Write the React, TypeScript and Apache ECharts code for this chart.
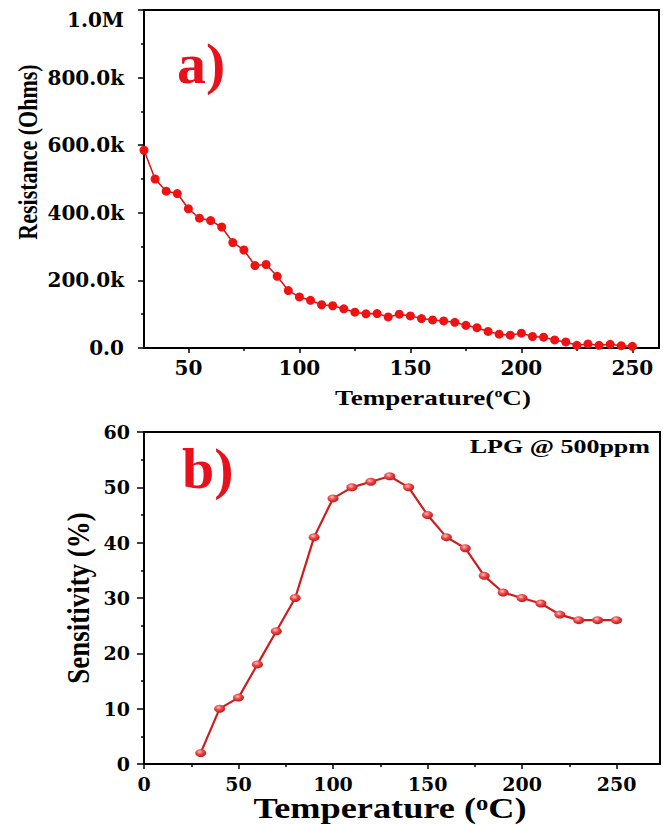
import React, { useEffect, useRef } from "react";
import * as echarts from "echarts";

// ---- Data ----
const tempA = [30, 35, 40, 45, 50, 55, 60, 65, 70, 75, 80, 85, 90, 95, 100, 105, 110, 115, 120, 125, 130, 135, 140, 145, 150, 155, 160, 165, 170, 175, 180, 185, 190, 195, 200, 205, 210, 215, 220, 225, 230, 235, 240, 245, 250];
const resistance = [585000, 500000, 464000, 457000, 412000, 384000, 377000, 358000, 312000, 290000, 244000, 247000, 212000, 170000, 151000, 141000, 128000, 125000, 116000, 106000, 101000, 102000, 92000, 100000, 95000, 87000, 83000, 80000, 76000, 67000, 60000, 49000, 41000, 38000, 44000, 34000, 32000, 24000, 18000, 8000, 12000, 8000, 11000, 7000, 5000];

const tempB = [30, 40, 50, 60, 70, 80, 90, 100, 110, 120, 130, 140, 150, 160, 170, 180, 190, 200, 210, 220, 230, 240, 250];
const sensitivity = [2, 10, 12, 18, 24, 30, 41, 48, 50, 51, 52, 50, 45, 41, 39, 34, 31, 30, 29, 27, 26, 26, 26];

const xMajorA = [50, 100, 150, 200, 250];
const xMinorA = [75, 125, 175, 225];
const xMajorB = [0, 50, 100, 150, 200, 250];
const xMinorB = [25, 75, 125, 175, 225];

const TICK_FONT = "'DejaVu Serif', serif";
const TITLE_FONT = "'Liberation Serif', 'Times New Roman', serif";

function fmtRes(v: number): string {
  if (v === 0) return "0.0";
  if (v >= 1000000) return "{m|" + (v / 1000000).toFixed(1) + "M}";
  return (v / 1000).toFixed(1) + "k";
}

export default function App() {
  const ref = useRef<HTMLDivElement>(null);

  useEffect(() => {
    if (!ref.current) return;
    const chart = echarts.init(ref.current, null, { renderer: "svg" });

    const axisLine = { show: true, lineStyle: { color: "#000", width: 2 } };
    const tickStyle = { color: "#000", width: 1.5 };

    const option: any = {
      animation: false,
      backgroundColor: "#fff",
      grid: [
        { left: 144, top: 10, width: 515, height: 338, show: true, borderColor: "#000", borderWidth: 2 },
        { left: 144, top: 432, width: 516, height: 332, show: true, borderColor: "#000", borderWidth: 2 },
      ],
      xAxis: [
        {
          type: "value", gridIndex: 0, position: "bottom", min: 30, max: 262,
          axisLine,
          axisTick: { show: true, customValues: xMajorA, length: 5, lineStyle: tickStyle },
          axisLabel: { customValues: xMajorA, fontFamily: TICK_FONT, fontWeight: "bold", fontSize: 20, color: "#000", margin: 10 },
          splitLine: { show: false },
        },
        {
          type: "value", gridIndex: 0, position: "bottom", min: 30, max: 262,
          axisLine: { show: false },
          axisTick: { show: true, customValues: xMinorA, length: 3, lineStyle: tickStyle },
          axisLabel: { show: false },
          splitLine: { show: false },
        },
        {
          type: "value", gridIndex: 1, position: "bottom", min: 0, max: 273,
          axisLine,
          axisTick: { show: true, customValues: xMajorB, length: 5, lineStyle: tickStyle },
          axisLabel: { customValues: xMajorB, fontFamily: TICK_FONT, fontWeight: "bold", fontSize: 19, color: "#000", margin: 10 },
          splitLine: { show: false },
        },
        {
          type: "value", gridIndex: 1, position: "bottom", min: 0, max: 273,
          axisLine: { show: false },
          axisTick: { show: true, customValues: xMinorB, length: 3, lineStyle: tickStyle },
          axisLabel: { show: false },
          splitLine: { show: false },
        },
      ],
      yAxis: [
        {
          type: "value", gridIndex: 0, min: 0, max: 1000000, interval: 200000,
          axisLine,
          axisTick: { show: true, length: 6, lineStyle: tickStyle },
          minorTick: { show: true, splitNumber: 2, length: 3, lineStyle: tickStyle },
          axisLabel: {
            formatter: fmtRes, fontFamily: TICK_FONT, fontWeight: "bold", fontSize: 20, color: "#000", margin: 20,
            rich: {
              m: { fontFamily: TICK_FONT, fontWeight: "bold", fontSize: 20, color: "#000", padding: [20, 0, 0, 0] },
            },
          },
          splitLine: { show: false },
          minorSplitLine: { show: false },
        },
        {
          type: "value", gridIndex: 1, min: 0, max: 60, interval: 10,
          axisLine,
          axisTick: { show: true, length: 7, lineStyle: tickStyle },
          minorTick: { show: true, splitNumber: 2, length: 3, lineStyle: tickStyle },
          axisLabel: { fontFamily: TICK_FONT, fontWeight: "bold", fontSize: 19, color: "#000", margin: 14 },
          splitLine: { show: false },
          minorSplitLine: { show: false },
        },
      ],
      series: [
        {
          type: "line", xAxisIndex: 0, yAxisIndex: 0,
          data: tempA.map((t, i) => [t, resistance[i]]),
          symbol: "circle", symbolSize: 9,
          lineStyle: { color: "#d81010", width: 1.5 },
          itemStyle: { color: "#f01212" },
        },
        {
          type: "line", xAxisIndex: 2, yAxisIndex: 1,
          data: tempB.map((t, i) => [t, sensitivity[i]]),
          symbol: "circle", symbolSize: [11, 8],
          lineStyle: { color: "#cc1c1c", width: 2.2 },
          itemStyle: {
            color: {
              type: "radial", x: 0.4, y: 0.35, r: 0.65,
              colorStops: [
                { offset: 0, color: "#ffc4c4" },
                { offset: 0.45, color: "#ee4a4a" },
                { offset: 1, color: "#c41818" },
              ],
            },
          },
        },
      ],
      graphic: [
        {
          type: "text", x: 177, y: 63,
          style: { text: "a)", fill: "#e8101a", font: `bold 58px ${TITLE_FONT}`, align: "left", verticalAlign: "middle", textAlign: "left", textVerticalAlign: "middle" },
        },
        {
          type: "text", x: 182, y: 468,
          style: { text: "b)", fill: "#e8101a", font: `bold 58px ${TITLE_FONT}`, align: "left", verticalAlign: "middle", textAlign: "left", textVerticalAlign: "middle" },
        },
        {
          type: "text", x: 28, y: 152, rotation: Math.PI / 2, scaleY: 1.25,
          style: { text: "Resistance (Ohms)", fill: "#000", font: `bold 22px ${TITLE_FONT}`, align: "center", verticalAlign: "middle", textAlign: "center", textVerticalAlign: "middle" },
        },
        {
          type: "text", x: 78, y: 598, rotation: Math.PI / 2, scaleY: 1.15,
          style: { text: "Sensitivity (%)", fill: "#000", font: `bold 27px ${TITLE_FONT}`, align: "center", verticalAlign: "middle", textAlign: "center", textVerticalAlign: "middle" },
        },
        {
          type: "text", x: 433, y: 397, scaleX: 1.23,
          style: {
            text: "{t|Temperature(}{s|o}{t|C)}",
            align: "center", verticalAlign: "middle", textAlign: "center", textVerticalAlign: "middle",
            rich: {
              t: { fontFamily: TITLE_FONT, fontWeight: "bold", fontSize: 22, fill: "#000", color: "#000" },
              s: { fontFamily: TITLE_FONT, fontWeight: "bold", fontSize: 13, fill: "#000", color: "#000", verticalAlign: "top" },
            },
          },
        },
        {
          type: "text", x: 390, y: 808, scaleX: 1.23,
          style: {
            text: "{t|Temperature (}{s|o}{t|C)}",
            align: "center", verticalAlign: "middle", textAlign: "center", textVerticalAlign: "middle",
            rich: {
              t: { fontFamily: TITLE_FONT, fontWeight: "bold", fontSize: 29.5, fill: "#000", color: "#000" },
              s: { fontFamily: TITLE_FONT, fontWeight: "bold", fontSize: 20, fill: "#000", color: "#000", verticalAlign: "top" },
            },
          },
        },
        {
          type: "text", x: 650, y: 447, scaleX: 1.37,
          style: { text: "LPG @ 500ppm", fill: "#000", font: `bold 19px ${TITLE_FONT}`, align: "right", verticalAlign: "middle", textAlign: "right", textVerticalAlign: "middle" },
        },
      ],
    };

    chart.setOption(option);
    return () => chart.dispose();
  }, []);

  return (
    <div
      ref={ref}
      style={{ position: "fixed", left: 0, top: 0, width: 663, height: 825, background: "#fff" }}
    />
  );
}
